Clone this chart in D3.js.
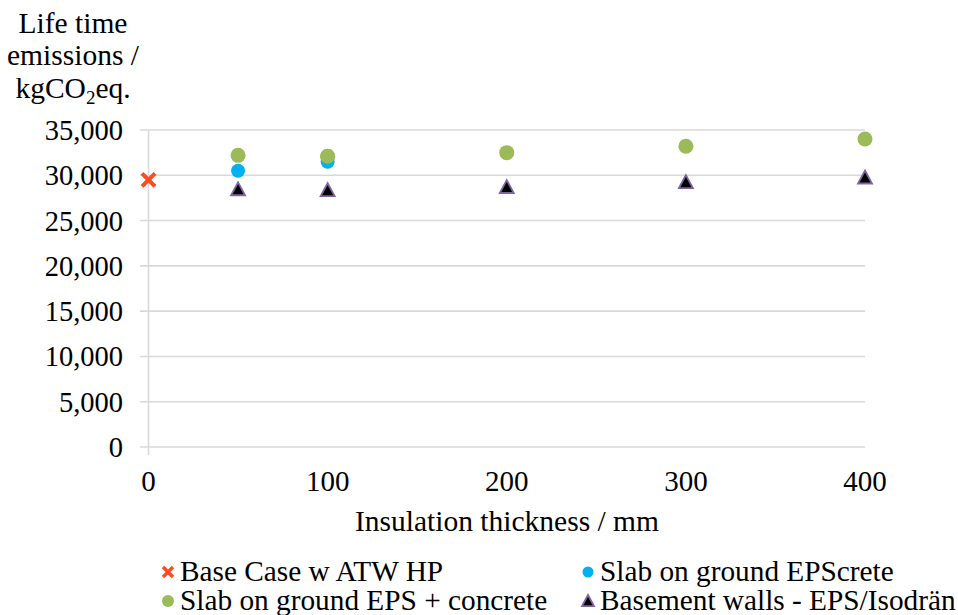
<!DOCTYPE html>
<html>
<head>
<meta charset="utf-8">
<script src="https://cdn.jsdelivr.net/npm/d3@7"></script>
<style>
	svg text, svg tspan { font-family: "Liberation Serif", serif !important; }
</style>
</head>
<body style="margin:0">
<svg id="chart" width="958" height="615" font-family="serif"></svg>
<script>
	//data
	var thickness = [50, 100, 200, 300, 400],
		baseCase = [{x: 0, y: 29500}],
		epscrete = [30500, 31500],
		epsConcrete = [32200, 32100, 32500, 33200, 34000],
		basementWalls = [28450, 28350, 28700, 29250, 29750],
		yTicks = [0, 5000, 10000, 15000, 20000, 25000, 30000, 35000],
		xTicks = [0, 100, 200, 300, 400],
		legendNames = ['Base Case w ATW HP', 'Slab on ground EPScrete',
			'Slab on ground EPS + concrete', 'Basement walls - EPS/Isodrän'];

	var svg = d3.select('#chart'),
		x = d3.scaleLinear().domain([0, 400]).range([148.5, 865]),
		y = d3.scaleLinear().domain([0, 35000]).range([447, 130]),
		fmt = d3.format(',');

	var colors = {
		cross: '#FF4B1F',
		blue: '#00B0F0',
		green: '#9BBB59',
		triEdge: '#8064A2'
	};

	function label(sel, size) {
		return sel.attr('font-family', 'serif')
			.style('font-family', '"Liberation Serif", serif', 'important')
			.attr('font-size', size);
	}

	//gridlines
	svg.append('g').selectAll('line').data(yTicks).join('line')
		.attr('x1', 140).attr('x2', x(400))
		.attr('y1', function(d) { return y(d); })
		.attr('y2', function(d) { return y(d); })
		.attr('stroke', '#D9D9D9').attr('stroke-width', 1.6);

	//vertical axis line
	svg.append('line')
		.attr('x1', x(0)).attr('x2', x(0))
		.attr('y1', y(35000)).attr('y2', y(0) + 8)
		.attr('stroke', '#D9D9D9').attr('stroke-width', 1.6);

	//y tick labels
	label(svg.append('g').selectAll('text').data(yTicks).join('text'), 28.5)
		.attr('x', 123).attr('y', function(d) { return y(d) + 10; })
		.attr('text-anchor', 'end')
		.text(function(d) { return fmt(d); });

	//x tick labels
	label(svg.append('g').selectAll('text').data(xTicks).join('text'), 29)
		.attr('x', function(d) { return x(d); }).attr('y', 491)
		.attr('text-anchor', 'middle')
		.text(function(d) { return d; });

	//axis titles
	label(svg.append('text'), 29.5).attr('x', 507).attr('y', 531)
		.attr('text-anchor', 'middle')
		.text('Insulation thickness / mm');

	var yTitle = label(svg.append('text'), 29.5).attr('text-anchor', 'middle');
	yTitle.append('tspan').attr('x', 73).attr('y', 33).text('Life time');
	yTitle.append('tspan').attr('x', 73).attr('y', 65).text('emissions /');
	yTitle.append('tspan').attr('x', 73).attr('y', 98).text('kgCO');
	yTitle.append('tspan').attr('dy', 6).attr('font-size', 19).text('2');
	yTitle.append('tspan').attr('dy', -6).text('eq.');

	//marker painters
	function drawCross(g, cx, cy, s, w) {
		g.append('path')
			.attr('d', 'M' + (cx - s) + ',' + (cy - s) + 'L' + (cx + s) + ',' + (cy + s) +
				'M' + (cx - s) + ',' + (cy + s) + 'L' + (cx + s) + ',' + (cy - s))
			.attr('stroke', colors.cross).attr('stroke-width', w);
	}

	function drawTri(g, cx, cy, s) {
		g.append('path')
			.attr('d', 'M' + cx + ',' + (cy - s) + 'L' + (cx + s) + ',' + (cy + s * 0.85) +
				'L' + (cx - s) + ',' + (cy + s * 0.85) + 'Z')
			.attr('fill', '#000').attr('stroke', colors.triEdge).attr('stroke-width', 1.8);
	}

	var marks = svg.append('g');

	baseCase.forEach(function(d) {
		drawCross(marks, x(d.x), y(d.y), 6.5, 4);
	});

	epsConcrete.forEach(function(v, i) {
		marks.append('circle').attr('cx', x(thickness[i])).attr('cy', y(v))
			.attr('r', 7.5).attr('fill', colors.green);
	});

	epscrete.forEach(function(v, i) {
		marks.append('circle').attr('cx', x(thickness[i])).attr('cy', y(v))
			.attr('r', 7).attr('fill', colors.blue);
	});

	//green over blue at 100 in the reference
	marks.append('circle').attr('cx', x(thickness[1])).attr('cy', y(epsConcrete[1]))
		.attr('r', 7.5).attr('fill', colors.green);

	basementWalls.forEach(function(v, i) {
		drawTri(marks, x(thickness[i]), y(v), 7);
	});

	//legend
	var legend = svg.append('g'),
		legPos = [[168, 572], [588, 572], [168, 601], [588, 601]];

	drawCross(legend, legPos[0][0], legPos[0][1], 5, 3.5);
	legend.append('circle').attr('cx', legPos[1][0]).attr('cy', legPos[1][1]).attr('r', 5.5).attr('fill', colors.blue);
	legend.append('circle').attr('cx', legPos[2][0]).attr('cy', legPos[2][1]).attr('r', 6).attr('fill', colors.green);
	drawTri(legend, legPos[3][0], legPos[3][1], 6);

	legendNames.forEach(function(name, i) {
		label(legend.append('text'), 29.3)
			.attr('x', legPos[i][0] + 12).attr('y', legPos[i][1] + 9)
			.text(name);
	});
</script>
</body>
</html>
